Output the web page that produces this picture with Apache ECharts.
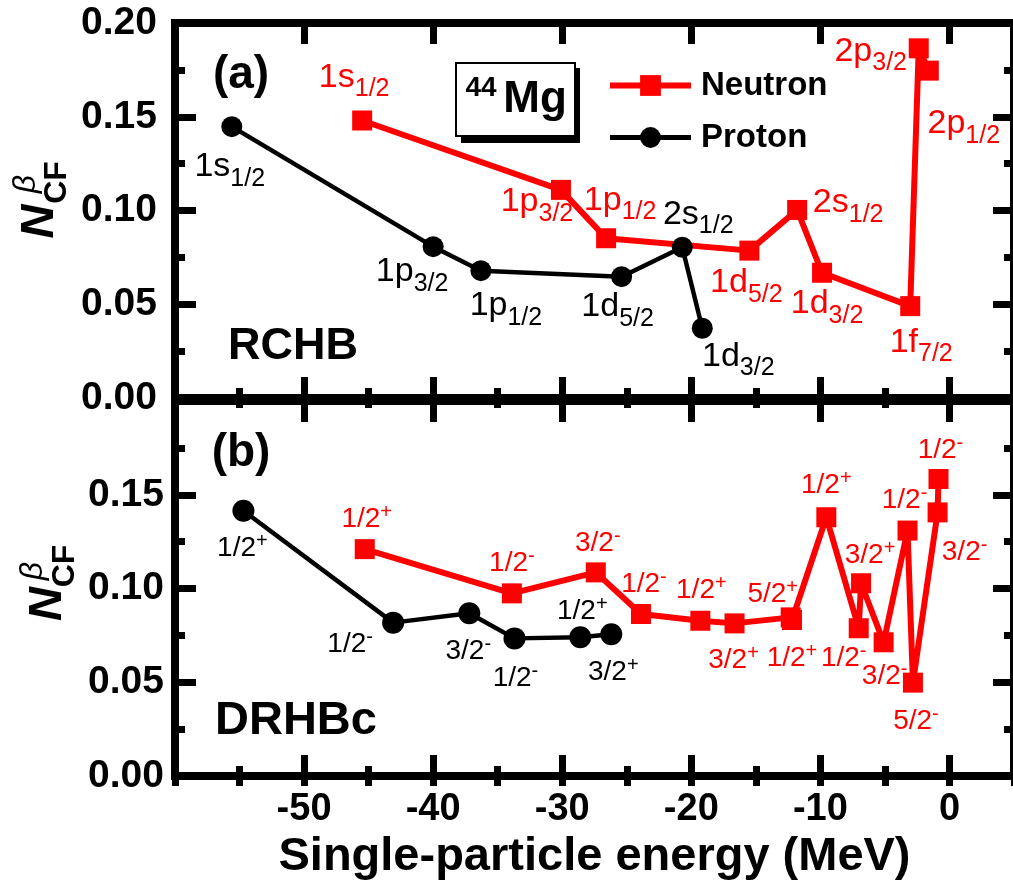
<!DOCTYPE html>
<html>
<head>
<meta charset="utf-8">
<script src="https://cdn.jsdelivr.net/npm/echarts@6/dist/echarts.min.js"></script>
<style>
  html, body { margin: 0; padding: 0; background: #fff; }
  #chart { width: 1013px; height: 894px; }
</style>
</head>
<body>
<div id="chart"></div>
<script>
const FONT = '"Liberation Sans", Arial, sans-serif'

// (a) RCHB -- energies in MeV, N_CF values, state labels ("_" = subscript)
const rchbNeutronE = [-45.5, -30.1, -26.6, -15.5, -11.8, -9.87, -3.04, -2.38, -1.6]
const rchbNeutronN = [0.148, 0.111, 0.0852, 0.0786, 0.1003, 0.0668, 0.049, 0.1865, 0.1746]
const rchbNeutronLbl = ['1s_1/2', '1p_3/2', '1p_1/2', '1d_5/2', '2s_1/2', '1d_3/2', '1f_7/2', '2p_3/2', '2p_1/2']

const rchbProtonE = [-55.6, -40.0, -36.3, -25.4, -20.7, -19.15]
const rchbProtonN = [0.1447, 0.0807, 0.0679, 0.0647, 0.0804, 0.0372]
const rchbProtonLbl = ['1s_1/2', '1p_3/2', '1p_1/2', '1d_5/2', '2s_1/2', '1d_3/2']

// (b) DRHBc ("^" = superscript parity)
const drhbcNeutronE = [-45.3, -33.9, -27.4, -23.9, -19.3, -16.65, -12.3, -12.2, -9.54, -7.03, -6.85, -5.1, -3.25, -2.83, -0.92, -0.85]
const drhbcNeutronN = [0.121, 0.0974, 0.1086, 0.0864, 0.0828, 0.0814, 0.0846, 0.0832, 0.138, 0.0788, 0.1028, 0.0713, 0.1309, 0.0498, 0.1406, 0.1584]
const drhbcNeutronLbl = ['1/2^+', '1/2^-', '3/2^-', '1/2^-', '1/2^+', '3/2^+', '5/2^+', '1/2^+', '1/2^+', '1/2^-', '3/2^+', '3/2^-', '1/2^-', '5/2^-', '3/2^-', '1/2^-']

const drhbcProtonE = [-54.7, -43.1, -37.2, -33.7, -28.6, -26.2]
const drhbcProtonN = [0.1415, 0.0818, 0.0868, 0.0734, 0.0740, 0.0756]
const drhbcProtonLbl = ['1/2^+', '1/2^-', '3/2^-', '1/2^-', '1/2^+', '3/2^+']

// label placement (pixel offset of the label from its point)
const offRchbNeutron = [[-8, -43], [-24, 12], [14, -38], [-3, 32], [51, -7], [5, 31], [11, 36], [-48, 3], [35, 53]]
const offRchbProton = [[-2, 40], [-21, 25], [25, 35], [-4, 30], [16, -33], [36, 28]]
const offDrhbcNeutron = [[2, -30], [0, -30], [2, -29], [3, -30], [1, -30], [-1, 37], [-18, -23], [0, 38],
  [0, -32], [-15, 30], [9, -28], [1, 34], [-3, -30], [3, 39], [27, 40], [2, -29]]
const offDrhbcProton = [[-1, 38], [-43, 22], [-1, 38], [1, 40], [2, -26], [2, 38]]

const RED = '#ff0000'
const BLACK = '#000000'

function fmt (p) {
  const s = p.data.name
  if (s.indexOf('_') >= 0) {
    const parts = s.split('_')
    return '{m|' + parts[0] + '}{sub|' + parts[1] + '}'
  }
  const parts = s.split('^')
  return '{m|' + parts[0] + '}{sup|' + parts[1] + '}'
}

function richA (color) {
  return {
    m: { fontSize: 34, lineHeight: 46, color, fontFamily: FONT },
    sub: { fontSize: 25, lineHeight: 22, height: 22, verticalAlign: 'bottom', color, fontFamily: FONT }
  }
}
function richB (color) {
  return {
    m: { fontSize: 28, lineHeight: 34, color, fontFamily: FONT },
    sup: { fontSize: 20, lineHeight: 20, height: 20, verticalAlign: 'top', color, fontFamily: FONT }
  }
}

function makeSeries (name, xIdx, yIdx, es, ns, lbls, offs, color, symbol, size, lw, rich) {
  return {
    name: name,
    type: 'line',
    xAxisIndex: xIdx,
    yAxisIndex: yIdx,
    data: es.map((e, i) => ({ name: lbls[i], value: [e, ns[i]], label: { offset: offs[i] } })),
    symbol: symbol,
    symbolSize: size,
    lineStyle: { color: color, width: lw },
    itemStyle: { color: color },
    label: { show: true, position: 'inside', formatter: fmt, color: color, fontFamily: FONT, rich: rich },
    emphasis: { disabled: true }
  }
}

// axes -----------------------------------------------------------
const axisLine = { show: true, onZero: false, lineStyle: { color: BLACK, width: 8, cap: 'square' } }

function xAxisPair (gridIndex, position, withLabels) {
  const major = {
    type: 'value', gridIndex, position, min: -60, max: 5, interval: 10,
    axisLine: axisLine,
    axisTick: { show: true, inside: true, length: 21, lineStyle: { color: BLACK, width: 7 } },
    axisLabel: { show: false },
    splitLine: { show: false }
  }
  if (withLabels) {
    major.axisLabel = {
      show: true, margin: 15, showMinLabel: false, showMaxLabel: false,
      fontSize: 38, lineHeight: 38, fontWeight: 'bold', fontFamily: FONT, color: BLACK
    }
    major.name = 'Single-particle energy (MeV)'
    major.nameLocation = 'middle'
    major.nameGap = 58
    major.nameTextStyle = { fontSize: 47, lineHeight: 47, fontWeight: 'bold', fontFamily: FONT, color: BLACK }
  }
  const minor = {
    type: 'value', gridIndex, position, min: -60, max: 5, interval: 5,
    axisLine: { show: false },
    axisTick: { show: true, inside: true, length: 10, lineStyle: { color: BLACK, width: 7 } },
    axisLabel: { show: false },
    splitLine: { show: false }
  }
  return [major, minor]
}

function yAxisOf (gridIndex, position, labelOpt) {
  return {
    type: 'value', gridIndex, position, min: 0, max: 0.2, interval: 0.05,
    axisLine: axisLine,
    axisTick: { show: true, inside: true, length: 21, lineStyle: { color: BLACK, width: 7 } },
    minorTick: { show: true, splitNumber: 2, length: 10, lineStyle: { color: BLACK, width: 7 } },
    axisLabel: labelOpt || { show: false },
    splitLine: { show: false },
    minorSplitLine: { show: false }
  }
}

const yLabel = (margin, showMax) => ({
  show: true, margin, showMaxLabel: showMax,
  fontSize: 39, fontWeight: 'bold', fontFamily: FONT, color: BLACK,
  formatter: v => v.toFixed(2)
})

const xAxes = [].concat(
  xAxisPair(0, 'bottom', false), xAxisPair(0, 'top', false),
  xAxisPair(1, 'bottom', true), xAxisPair(1, 'top', false)
)
const yAxes = [
  yAxisOf(0, 'left', yLabel(18, true)), yAxisOf(0, 'right'),
  yAxisOf(1, 'left', yLabel(11, false)), yAxisOf(1, 'right')
]

// y axis title N_CF^beta, drawn rotated
function yTitle (nx, ny, cx, cy, bx, by) {
  return [
    { type: 'text', x: nx, y: ny, rotation: Math.PI / 2,
      style: { text: 'N', font: 'italic bold 47px ' + FONT, fill: BLACK, align: 'center', verticalAlign: 'middle' } },
    { type: 'text', x: cx, y: cy, rotation: Math.PI / 2,
      style: { text: 'CF', font: 'bold 32px ' + FONT, fill: BLACK, align: 'center', verticalAlign: 'middle' } },
    { type: 'text', x: bx, y: by, rotation: Math.PI / 2,
      style: { text: 'β', font: 'italic 32px ' + FONT, fill: BLACK, align: 'center', verticalAlign: 'middle' } }
  ]
}

function txt (text, x, y, font) {
  return { type: 'text', x, y, style: { text, font, fill: BLACK, align: 'center', verticalAlign: 'middle' } }
}

const chart = echarts.init(document.getElementById('chart'))
chart.setOption({
  animation: false,
  backgroundColor: '#fff',
  grid: [
    { left: 175, top: 23, width: 839, height: 375, outerBoundsMode: 'none' },
    { left: 175, top: 401, width: 839, height: 375, outerBoundsMode: 'none' }
  ],
  xAxis: xAxes,
  yAxis: yAxes,
  legend: {
    data: [
      { name: 'Neutron', lineStyle: { width: 6 } },
      { name: 'Proton', lineStyle: { width: 5 } }
    ],
    orient: 'vertical',
    left: 607,
    top: 69,
    padding: 0,
    itemWidth: 81,
    itemHeight: 26,
    itemGap: 19,
    selectedMode: false,
    textStyle: { fontSize: 33, fontWeight: 'bold', fontFamily: FONT, color: BLACK, padding: [0, 0, 0, 5] }
  },
  graphic: [
    // 44Mg box with drop shadow
    { type: 'rect', shape: { x: 461, y: 68, width: 119, height: 75 }, style: { fill: BLACK } },
    { type: 'rect', shape: { x: 456, y: 63, width: 119, height: 73 }, style: { fill: '#fff', stroke: BLACK, lineWidth: 2 } },
    txt('44', 481, 88, 'bold 28px ' + FONT),
    txt('Mg', 535, 100, 'bold 44px ' + FONT),
    txt('(a)', 241, 75, 'bold 46px ' + FONT),
    txt('(b)', 241, 453, 'bold 46px ' + FONT),
    txt('RCHB', 293, 347, 'bold 45px ' + FONT),
    txt('DRHBc', 296, 721, 'bold 47px ' + FONT)
  ].concat(yTitle(40, 221.5, 57, 182.5, 26, 184), yTitle(48, 604, 65.5, 566, 33, 571)),
  series: [
    makeSeries('Neutron', 0, 0, rchbNeutronE, rchbNeutronN, rchbNeutronLbl, offRchbNeutron, RED, 'rect', 20, 6, richA(RED)),
    makeSeries('Proton', 0, 0, rchbProtonE, rchbProtonN, rchbProtonLbl, offRchbProton, BLACK, 'circle', 21, 4.5, richA(BLACK)),
    makeSeries('Neutron', 4, 2, drhbcNeutronE, drhbcNeutronN, drhbcNeutronLbl, offDrhbcNeutron, RED, 'rect', 20, 6, richB(RED)),
    makeSeries('Proton', 4, 2, drhbcProtonE, drhbcProtonN, drhbcProtonLbl, offDrhbcProton, BLACK, 'circle', 22, 4.5, richB(BLACK))
  ]
})
</script>
</body>
</html>
